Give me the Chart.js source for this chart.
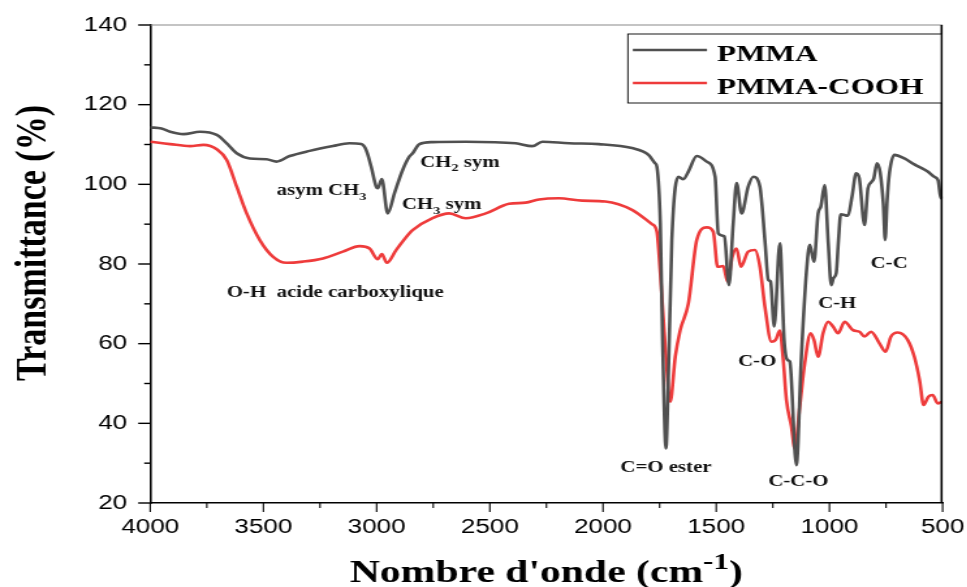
<!DOCTYPE html>
<html>
<head>
<meta charset="utf-8">
<script src="https://cdn.jsdelivr.net/npm/chart.js@4.4.1/dist/chart.umd.min.js"></script>
<style>
  html, body { margin: 0; padding: 0; background: #fff; overflow: hidden; }
  #wrap { height: 587px; transform-origin: 0 0; }
</style>
</head>
<body>
<div id="wrap"><canvas id="chart"></canvas></div>
<script>
// ── Data ──────────────────────────────────────────────
const pmmaWn = [4000, 3950, 3912, 3853, 3780, 3706, 3662, 3618, 3560, 3486, 3442, 3384, 3296, 3193, 3120, 3068,
  3046, 3024, 3002, 2995, 2977, 2951, 2921, 2885, 2855, 2841, 2811, 2753, 2606, 2386, 2312, 2268, 2150, 2019,
  1872, 1799, 1770, 1762, 1747, 1737, 1722, 1711, 1696, 1667, 1645, 1623, 1586, 1542, 1505, 1491, 1464, 1444,
  1425, 1410, 1388, 1359, 1336, 1307, 1285, 1270, 1260, 1244, 1219, 1200, 1185, 1175, 1146, 1124, 1102, 1087,
  1068, 1050, 1038, 1021, 1005, 992, 982, 970, 960, 950, 918, 900, 882, 868, 845, 830, 816, 804, 790, 776, 762,
  754, 745, 735, 713, 669, 625, 566, 537, 520, 508, 500]
const pmmaT = [114.3, 114.0, 113.2, 112.6, 113.2, 112.4, 110.3, 107.8, 106.5, 106.3, 105.7, 107.1, 108.4, 109.6, 110.3, 110.1,
  108.6, 104.4, 99.4, 99.0, 101.3, 92.7, 97.8, 103.6, 107.0, 107.8, 110.1, 110.6, 110.7, 110.3, 109.6, 110.7, 110.3, 110.1,
  109.1, 107.4, 105.3, 104.4, 90.2, 60.9, 33.7, 52.6, 86.0, 101.9, 101.3, 103.2, 107.1, 105.7, 101.9, 87.7, 86.9, 74.7,
  90.2, 100.3, 92.7, 99.4, 101.9, 99.4, 86.0, 76.0, 75.6, 64.3, 85.2, 60.9, 55.9, 55.5, 29.5, 56.7, 77.7, 84.8,
  80.6, 92.7, 94.4, 99.8, 85.0, 74.7, 76.5, 77.7, 86.0, 92.5, 92.1, 97.0, 102.8, 101.5, 89.8, 99.0, 100.5, 101.5, 105.3, 103.0, 95.0,
  86.0, 96.0, 102.8, 107.4, 106.5, 105.0, 103.2, 101.9, 101.0, 96.5, 97.0]

const coohWn = [4000, 3912, 3824, 3765, 3706, 3662, 3618, 3574, 3516, 3457, 3398, 3325, 3237, 3149, 3075, 3031,
  2995, 2977, 2955, 2914, 2855, 2841, 2753, 2679, 2606, 2518, 2415, 2342, 2283, 2195, 2092, 1990, 1872, 1784,
  1762, 1747, 1725, 1703, 1681, 1659, 1623, 1586, 1542, 1513, 1494, 1469, 1450, 1429, 1410, 1391, 1359, 1329,
  1307, 1285, 1256, 1238, 1219, 1204, 1190, 1168, 1153, 1131, 1109, 1083, 1068, 1050, 1028, 1006, 984, 962, 933,
  896, 867, 845, 816, 779, 752, 728, 698, 654, 625, 602, 584, 563, 544, 522, 504]
const coohT = [110.7, 110.1, 109.6, 109.9, 108.8, 106.1, 99.4, 92.7, 86.0, 81.8, 80.3, 80.6, 81.4, 83.1, 84.5, 83.9,
  81.2, 82.5, 80.3, 83.5, 87.7, 88.5, 91.5, 92.7, 91.5, 92.7, 95.1, 95.4, 96.2, 96.5, 95.9, 95.7, 93.6, 90.0,
  88.1, 77.7, 59.2, 45.4, 56.7, 63.4, 70.1, 86.0, 89.2, 88.1, 79.3, 79.5, 75.6, 81.8, 83.9, 79.3, 83.1, 83.5,
  79.3, 69.3, 60.5, 60.9, 63.3, 55.9, 45.9, 39.2, 33.7, 44.2, 55.1, 62.6, 60.9, 56.7, 62.6, 65.5, 64.3, 62.6, 65.5,
  63.4, 63.0, 61.8, 63.0, 60.1, 58.0, 61.8, 62.8, 60.9, 56.7, 50.9, 44.6, 46.7, 47.1, 45.0, 45.4]

const seriesNames = ['PMMA', 'PMMA-COOH']

// band assignments, '_x' = subscript x
const bandLabels = ['asym CH_3', 'CH_2 sym', 'CH_3 sym', 'O-H  acide carboxylique', 'C=O ester', 'C-O', 'C-C-O', 'C-H', 'C-C']
const bandWn     = [3442, 2808, 2888, 3662, 1923, 1403, 1270, 1050, 818]
const bandT      = [97.3, 104.4, 93.8, 71.7, 27.8, 54.3, 24.3, 69.0, 79.1]

const xTicks = [4000, 3500, 3000, 2500, 2000, 1500, 1000, 500]
const yTicks = [20, 40, 60, 80, 100, 120, 140]

// ── Page geometry ─────────────────────────────────────
// the original figure is stretched sideways; draw narrow, then stretch
const STRETCH = 1.3
const W = 967 / STRETCH
const wrap = document.getElementById('wrap')
wrap.style.width = W + 'px'
wrap.style.transform = `scale(${STRETCH}, 1)`

const SERIF = '"Liberation Serif", "Times New Roman", serif'
const SANS  = '"Liberation Sans", Arial, sans-serif'

const toPts = (xs, ys) => xs.map((v, i) => ({ x: v, y: ys[i] }))

// ── Helpers for text with subscripts ──────────────────
function drawSubText(ctx, str, x, y, size) {
  const parts = str.split('_')
  let cx = x
  parts.forEach((p, i) => {
    let s = p
    if (i > 0) {
      ctx.font = `bold ${Math.round(size * 0.68)}px ${SERIF}`
      ctx.fillText(p[0], cx, y + size * 0.28)
      cx += ctx.measureText(p[0]).width
      s = p.slice(1)
    }
    ctx.font = `bold ${size}px ${SERIF}`
    ctx.fillText(s, cx, y)
    cx += ctx.measureText(s).width
  })
}

// ── Decorations: minor ticks, frame, titles, labels, legend ──
const decor = {
  id: 'decor',
  afterDraw(chart) {
    const { ctx, chartArea: a, scales: { x, y } } = chart
    ctx.save()

    // top and right frame lines
    ctx.lineWidth = 1.2
    ctx.strokeStyle = '#8a8a8a'
    ctx.beginPath(); ctx.moveTo(a.left, a.top); ctx.lineTo(a.right, a.top); ctx.stroke()
    ctx.strokeStyle = '#000'
    ctx.lineWidth = 1.6
    ctx.beginPath(); ctx.moveTo(a.right - 0.8, a.top); ctx.lineTo(a.right - 0.8, a.bottom); ctx.stroke()

    // ticks
    ctx.strokeStyle = '#000'
    ctx.lineWidth = 1.1
    for (let v = 500; v <= 4000; v += 250) {
      const px = x.getPixelForValue(v)
      const len = v % 500 === 0 ? 9 : 5
      ctx.beginPath(); ctx.moveTo(px, a.bottom); ctx.lineTo(px, a.bottom + len); ctx.stroke()
    }
    ctx.lineWidth = 1.4
    for (let v = 20; v <= 140; v += 10) {
      const py = y.getPixelForValue(v)
      const len = (v % 20 === 0 ? 12 : 6) / STRETCH
      ctx.beginPath(); ctx.moveTo(a.left - len, py); ctx.lineTo(a.left, py); ctx.stroke()
    }

    // axis titles
    ctx.fillStyle = '#000'
    ctx.save()
    ctx.translate(46 / STRETCH, 243)
    ctx.rotate(-Math.PI / 2)
    ctx.font = `bold 34px ${SERIF}`
    ctx.textAlign = 'center'
    ctx.textBaseline = 'alphabetic'
    ctx.fillText('Transmittance (%)', 0, 0)
    ctx.restore()

    const main = "Nombre d'onde (cm", sup = '-1', close = ')'
    ctx.textBaseline = 'alphabetic'
    ctx.font = `bold 32px ${SERIF}`
    const w1 = ctx.measureText(main).width, w3 = ctx.measureText(close).width
    ctx.font = `bold 24px ${SERIF}`
    const w2 = ctx.measureText(sup).width
    let tx = (a.left + a.right) / 2 - (w1 + w2 + w3) / 2
    const base = 582
    ctx.font = `bold 32px ${SERIF}`
    ctx.fillText(main, tx, base); tx += w1
    ctx.font = `bold 24px ${SERIF}`
    ctx.fillText(sup, tx, base - 13); tx += w2
    ctx.font = `bold 32px ${SERIF}`
    ctx.fillText(close, tx, base)

    // band labels
    ctx.fillStyle = '#111'
    bandLabels.forEach((s, i) => {
      drawSubText(ctx, s, x.getPixelForValue(bandWn[i]), y.getPixelForValue(bandT[i]), 16)
    })

    // legend box
    const bx = 627 / STRETCH, bw = (940 - 627) / STRETCH, by = 34, bh = 69
    ctx.fillStyle = '#fff'
    ctx.fillRect(bx, by, bw, bh)
    ctx.strokeStyle = '#000'
    ctx.lineWidth = 0.9
    ctx.strokeRect(bx, by, bw, bh)
    chart.data.datasets.forEach((ds, i) => {
      const ly = [50, 83][i]
      ctx.strokeStyle = ds.borderColor
      ctx.lineWidth = 2.4
      ctx.beginPath(); ctx.moveTo(632 / STRETCH, ly); ctx.lineTo(706 / STRETCH, ly); ctx.stroke()
      ctx.fillStyle = '#000'
      ctx.font = `bold 24px ${SERIF}`
      ctx.textBaseline = 'alphabetic'
      ctx.fillText(ds.label, 716 / STRETCH, ly + 11)
    })

    ctx.restore()
  }
}

// ── Chart ─────────────────────────────────────────────
new Chart(document.getElementById('chart'), {
  type: 'line',
  data: {
    datasets: [
      { label: seriesNames[0], data: toPts(pmmaWn, pmmaT), borderColor: '#505050', borderWidth: 2.6,
        pointRadius: 0, cubicInterpolationMode: 'monotone', fill: false },
      { label: seriesNames[1], data: toPts(coohWn, coohT), borderColor: '#ee3b3b', borderWidth: 2.6,
        pointRadius: 0, cubicInterpolationMode: 'monotone', fill: false }
    ]
  },
  options: {
    responsive: true,
    maintainAspectRatio: false,
    animation: false,
    events: [],
    layout: { padding: { top: 25, right: W - 945 / STRETCH, left: 0, bottom: 0 } },
    plugins: { legend: { display: false }, tooltip: { enabled: false } },
    scales: {
      x: {
        type: 'linear', reverse: true, min: 500, max: 4000,
        afterBuildTicks: s => { s.ticks = xTicks.map(v => ({ value: v })) },
        afterFit: s => { s.height = 587 - 503 },
        grid: { display: false, tickLength: 9 },
        border: { display: true, color: '#000', width: 1.6 },
        ticks: { color: '#000', padding: 3, maxRotation: 0, font: { family: SANS, size: 20 },
                 callback: v => String(v) }
      },
      y: {
        min: 20, max: 140,
        afterBuildTicks: s => { s.ticks = yTicks.map(v => ({ value: v })) },
        afterFit: s => { s.width = 150 / STRETCH },
        grid: { display: false, tickLength: 12 / STRETCH },
        border: { display: true, color: '#000', width: 1.6 },
        ticks: { color: '#000', padding: 11 / STRETCH, font: { family: SANS, size: 20 },
                 callback: v => String(v) }
      }
    }
  },
  plugins: [decor]
})
</script>
</body>
</html>
